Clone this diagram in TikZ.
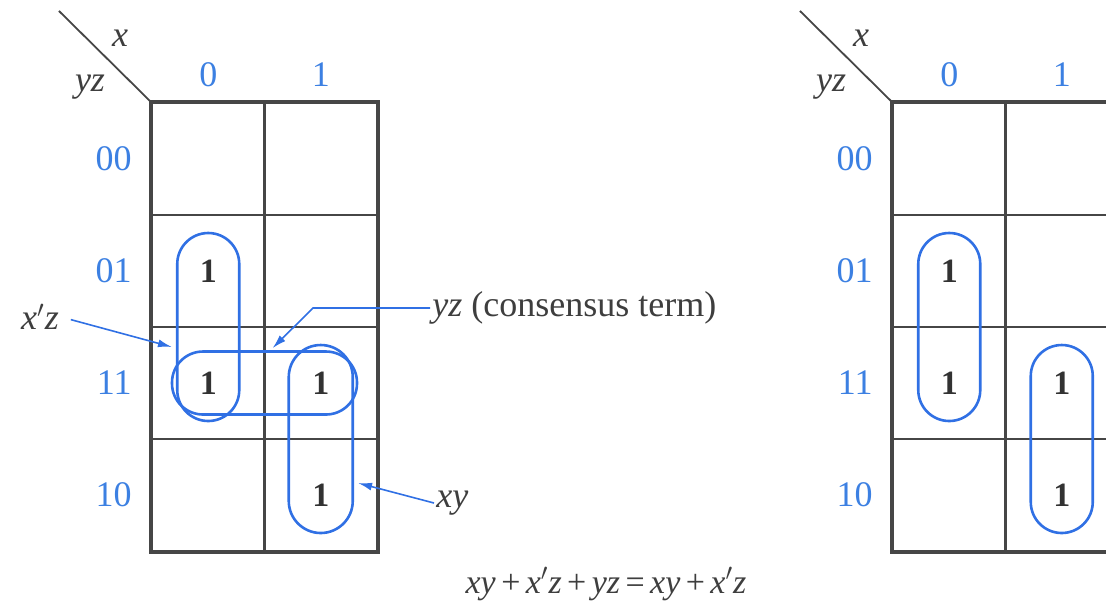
\documentclass[tikz,border=0pt]{standalone}
\usepackage{fontspec}
\setmainfont{Liberation Serif}
\usetikzlibrary{arrows.meta, calc, positioning}
\definecolor{kblue}{RGB}{60,128,226}
\definecolor{kloop}{RGB}{48,112,228}
\definecolor{kgrid}{RGB}{70,70,70}
\definecolor{ktext}{RGB}{62,62,62}
\newcommand{\opsp}{\hspace{0.16em}}

\begin{document}
\begin{tikzpicture}[
    x=0.5pt, y=-0.5pt,
    >={Latex[length=7pt,width=4pt]},
    font=\fontsize{18}{21}\selectfont,
    cellbox/.style={draw=kgrid, line width=1.1pt,
                    minimum width=56.25pt, minimum height=56pt,
                    inner sep=0pt},
    frame/.style={draw=kgrid, line width=1.8pt},
    diag/.style={draw=kgrid, line width=0.9pt},
    maplabel/.style={text=kblue, inner sep=1pt},
    varlabel/.style={text=ktext, font=\fontsize{18}{21}\selectfont\itshape,
                     inner sep=1pt},
    one/.style={text=ktext!80!black, font=\fontsize{17}{20}\selectfont\bfseries},
    grp/.style={draw=kloop, line width=1.3pt, inner sep=0pt},
    pointer/.style={->, draw=kloop, line width=0.8pt},
    note/.style={text=ktext, inner sep=1pt},
]
\useasboundingbox (0,0) rectangle (1106,607);
\clip (0,0) rectangle (1106,607);

% ---------------- the two maps (A left, B right) ----------------
\foreach \m/\dx in {A/0, B/741} {%
\begin{scope}[shift={(\dx,0)}]
    \foreach \r in {0,...,3} {%
        \foreach \c in {0,1} {%
            \node[cellbox] (\m\r\c) at ({208.25+112.5*\c}, {159+112*\r}) {};
        }
    }
    \draw[frame] (\m00.north west) rectangle (\m31.south east);
    \draw[diag] (\m00.north west) -- ++(-92,-91);
    \node[varlabel] at (120,38) {x};
    \node[varlabel] at (90,87) {yz};

    % column and row headings
    \node[maplabel] at ($(\m00)+(0,-84)$) {0};
    \node[maplabel] at ($(\m01)+(0,-84)$) {1};
    \foreach \r/\code in {0/00, 1/01, 2/11, 3/10} {%
        \node[maplabel, anchor=east] at ($(\m\r0.west)+(-17,0)$) {\code};
    }

    % entries
    \foreach \r/\c in {1/0, 2/0, 2/1, 3/1} {%
        \node[one] at (\m\r\c) {1};
    }
\end{scope}
}

% ---------------- groups, left map ----------------
\node[grp, rounded corners=15.5pt, minimum width=31pt, minimum height=94pt]
    (xzA) at ($(A10)!0.5!(A20)$) {};
\node[grp, rounded corners=16pt, minimum width=32pt, minimum height=94pt]
    (xyA) at ($(A21)!0.5!(A31)$) {};
\node[grp, rounded corners=15.5pt, minimum width=92.5pt, minimum height=31.5pt]
    (yzA) at ($(A20)!0.5!(A21)$) {};

% ---------------- groups, right map ----------------
\node[grp, rounded corners=15.5pt, minimum width=31pt, minimum height=94pt]
    (xzB) at ($(B10)!0.5!(B20)$) {};
\node[grp, rounded corners=15.5pt, minimum width=31pt, minimum height=94pt]
    (xyB) at ($(B21)!0.5!(B31)$) {};

% ---------------- callouts ----------------
\node[note] (lblxz) at (40,317) {\textit{x}$'$\textit{z}};
\draw[pointer, shorten <=5pt] (lblxz.east) -- ([xshift=-2pt, yshift=-10pt]xzA.west);

\node[note, anchor=west] (lblyz) at (430,308) {\textit{yz} (consensus term)};
\draw[pointer] (lblyz.west) -- ++(-117,0) -- ([xshift=4pt, yshift=1pt]yzA.north);

\node[note, anchor=west] (lblxy) at (434,503) {\textit{xy}};
\draw[pointer] (lblxy.west) -- ([xshift=2pt, yshift=-22pt]xyA.east);

% ---------------- equation ----------------
\node[note, font=\fontsize{17}{20}\selectfont] (eqn) at (606,584)
    {\textit{xy}\opsp+\opsp\textit{x}$'$\textit{z}\opsp+\opsp\textit{yz}\opsp=\opsp\textit{xy}\opsp+\opsp\textit{x}$'$\textit{z}};

\end{tikzpicture}
\end{document}
